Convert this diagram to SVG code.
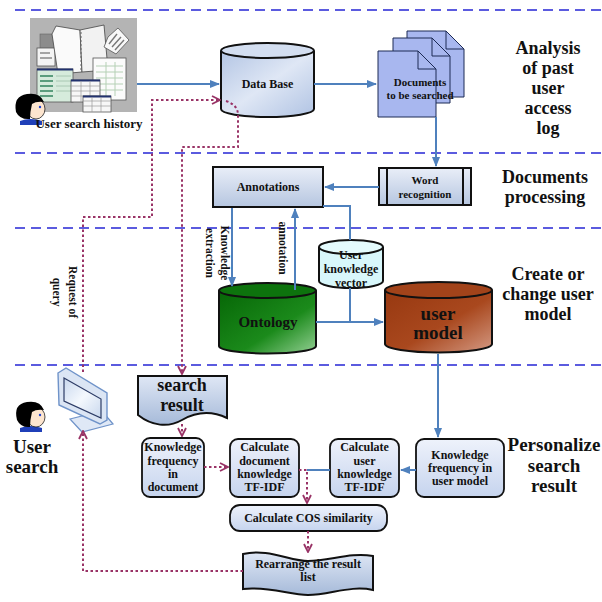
<svg xmlns="http://www.w3.org/2000/svg" width="602" height="602" viewBox="0 0 602 602">
  <style>
    text { font-family: "Liberation Serif", "Times New Roman", serif; font-weight: bold; fill: #111; text-anchor: middle; }
    .lane { stroke: #5b5bdf; stroke-width: 1.8; stroke-dasharray: 10 6; fill: none; }
    .flow { stroke: #4f81bd; stroke-width: 2; fill: none; }
    .dot { stroke: #993366; stroke-width: 2; stroke-dasharray: 2.5 2.5; fill: none; }
    .edge { stroke: #111; stroke-width: 2; }
    .box { fill: url(#boxGrad); stroke: #111; stroke-width: 1.8; }
    .head { font-size: 18px; }
    .t12 { font-size: 12px; }
    .t11 { font-size: 11px; }
    .rot { font-size: 11.5px; }
  </style>
  <defs>
    <linearGradient id="boxGrad" x1="0" y1="0" x2="0" y2="1">
      <stop offset="0" stop-color="#eef2fb"/>
      <stop offset="1" stop-color="#c6d4ee"/>
    </linearGradient>
    <linearGradient id="annGrad" x1="0" y1="0" x2="0" y2="1">
      <stop offset="0" stop-color="#e9eef8"/>
      <stop offset="1" stop-color="#b6c6e0"/>
    </linearGradient>
    <linearGradient id="dbGrad" x1="0" y1="0" x2="1" y2="1">
      <stop offset="0" stop-color="#b3c5e4"/>
      <stop offset="0.5" stop-color="#dfe7f5"/>
      <stop offset="1" stop-color="#b0c3e3"/>
    </linearGradient>
    <linearGradient id="greenGrad" x1="0" y1="0" x2="1" y2="1">
      <stop offset="0" stop-color="#066606"/>
      <stop offset="0.6" stop-color="#1b8a1b"/>
      <stop offset="1" stop-color="#94d094"/>
    </linearGradient>
    <linearGradient id="brownGrad" x1="0" y1="0" x2="1" y2="1">
      <stop offset="0" stop-color="#973810"/>
      <stop offset="0.55" stop-color="#a9481e"/>
      <stop offset="1" stop-color="#d49a84"/>
    </linearGradient>
    <linearGradient id="paperGrad" x1="0" y1="0" x2="0" y2="1">
      <stop offset="0" stop-color="#dfe7f5"/>
      <stop offset="1" stop-color="#a6bad9"/>
    </linearGradient>
    <linearGradient id="screenGrad" x1="0" y1="0" x2="1" y2="1">
      <stop offset="0" stop-color="#c9d8ee"/>
      <stop offset="0.5" stop-color="#f4f8fd"/>
      <stop offset="1" stop-color="#c9d8ee"/>
    </linearGradient>
    <marker id="arrowBlue" viewBox="0 0 10 10" refX="9" refY="5" markerWidth="10" markerHeight="10" markerUnits="userSpaceOnUse" orient="auto">
      <path d="M0,1 L10,5 L0,9 Z" fill="#4f81bd"/>
    </marker>
    <marker id="arrowDot" viewBox="0 0 10 10" refX="9" refY="5" markerWidth="10" markerHeight="10" markerUnits="userSpaceOnUse" orient="auto">
      <path d="M1,1 L9,5 L1,9" fill="none" stroke="#993366" stroke-width="1.8"/>
    </marker>
  </defs>

  <rect width="602" height="602" fill="#fff"/>

  <!-- swimlane separators -->
  <g id="lanes">
    <line class="lane" x1="15" y1="10" x2="602" y2="10"/>
    <line class="lane" x1="15" y1="153" x2="602" y2="153"/>
    <line class="lane" x1="15" y1="228" x2="602" y2="228"/>
    <line class="lane" x1="15" y1="365" x2="602" y2="365"/>
  </g>

  <!-- lane headings -->
  <g id="headings">
    <text class="head" x="548" y="54">Analysis</text>
    <text class="head" x="548" y="74">of  past</text>
    <text class="head" x="548" y="94">user</text>
    <text class="head" x="548" y="114">access</text>
    <text class="head" x="548" y="134">log</text>
    <text class="head" x="545" y="183">Documents</text>
    <text class="head" x="545" y="203">processing</text>
    <text class="head" x="548" y="280">Create or</text>
    <text class="head" x="548" y="300">change user</text>
    <text class="head" x="548" y="320">model</text>
    <text class="head" x="554" y="451" style="font-size:19px">Personalize</text>
    <text class="head" x="554" y="472" style="font-size:19px">search</text>
    <text class="head" x="554" y="492" style="font-size:19px">result</text>
  </g>

  <!-- user search history (records and person) -->
  <g id="history">
    <rect x="30" y="18" width="107" height="94" fill="#b4b4b4"/>
    <rect x="40" y="34" width="16" height="16" fill="#8c8c8c" stroke="#666" stroke-width="0.6"/>
    <rect x="37" y="48" width="18" height="18" fill="#f4f4f4" stroke="#555" stroke-width="0.8"/>
    <line x1="40" y1="53" x2="50" y2="53" stroke="#555"/>
    <line x1="40" y1="58" x2="52" y2="58" stroke="#555"/>
    <path d="M52,34 L56,26 L80,30 L82,72 L58,74 Z" fill="#fafafa" stroke="#444" stroke-width="0.8"/>
    <path d="M80,30 L104,25 L108,70 L82,72 Z" fill="#f2f2f2" stroke="#444" stroke-width="0.8"/>
    <line x1="81" y1="32" x2="81" y2="70" stroke="#666" stroke-width="1" stroke-dasharray="2 2"/>
    <path d="M108,37 L118,28 L129,40 L116,54 L104,47 Z" fill="#f8f8f8" stroke="#555" stroke-width="0.8"/>
    <line x1="109" y1="44" x2="117" y2="34" stroke="#777" stroke-width="1.4"/>
    <line x1="112" y1="47" x2="121" y2="37" stroke="#777" stroke-width="1.4"/>
    <line x1="115" y1="50" x2="124" y2="40" stroke="#777" stroke-width="1.4"/>
    <rect x="93" y="58" width="33" height="42" fill="#fbfbfb" stroke="#555" stroke-width="0.8"/>
    <g stroke="#b5d0b5" stroke-width="1">
      <line x1="96" y1="66" x2="123" y2="66"/><line x1="96" y1="72" x2="123" y2="72"/>
      <line x1="96" y1="78" x2="123" y2="78"/><line x1="96" y1="84" x2="123" y2="84"/>
      <line x1="96" y1="90" x2="123" y2="90"/><line x1="106" y1="62" x2="106" y2="96"/>
      <line x1="115" y1="62" x2="115" y2="96"/>
    </g>
    <rect x="37" y="69" width="36" height="33" fill="#d6ebdc" stroke="#555" stroke-width="0.8"/>
    <line x1="37" y1="69.5" x2="73" y2="69.5" stroke="#22326e" stroke-width="2"/>
    <g stroke="#3c8a66" stroke-width="1.6">
      <line x1="40" y1="76" x2="53" y2="76"/><line x1="40" y1="81" x2="53" y2="81"/>
      <line x1="40" y1="86" x2="53" y2="86"/><line x1="40" y1="91" x2="53" y2="91"/>
      <line x1="40" y1="96" x2="53" y2="96"/>
    </g>
    <g stroke="#9fbfa8" stroke-width="0.8">
      <line x1="56" y1="76" x2="71" y2="76"/><line x1="56" y1="81" x2="71" y2="81"/>
      <line x1="56" y1="86" x2="71" y2="86"/><line x1="56" y1="91" x2="71" y2="91"/>
    </g>
    <rect x="71" y="80" width="29" height="22" fill="#f7f7f7" stroke="#555" stroke-width="0.8"/>
    <line x1="71" y1="80.5" x2="100" y2="80.5" stroke="#22326e" stroke-width="2"/>
    <g stroke="#999" stroke-width="0.7">
      <line x1="71" y1="86" x2="100" y2="86"/><line x1="71" y1="91" x2="100" y2="91"/>
      <line x1="71" y1="96" x2="100" y2="96"/><line x1="81" y1="81" x2="81" y2="102"/>
      <line x1="90" y1="81" x2="90" y2="102"/>
    </g>
    <rect x="83" y="96" width="28" height="16" fill="#f7f7f7" stroke="#555" stroke-width="0.8"/>
    <line x1="83" y1="96.5" x2="111" y2="96.5" stroke="#22326e" stroke-width="2"/>
    <g stroke="#999" stroke-width="0.7">
      <line x1="83" y1="101" x2="111" y2="101"/><line x1="83" y1="106" x2="111" y2="106"/>
      <line x1="92" y1="97" x2="92" y2="112"/><line x1="101" y1="97" x2="101" y2="112"/>
    </g>
    <!-- person -->
    <path d="M20,121 Q30,117 42,121 L42,125 L20,125 Z" fill="#1f3fb8"/>
    <ellipse cx="36" cy="109" rx="9" ry="10" fill="#fde5cf" stroke="#222" stroke-width="0.8"/>
    <path d="M16,112 Q13,96 27,94 Q40,92 44,102 Q36,101 32,104 Q30,112 30,119 Q20,120 16,112 Z" fill="#000"/>
    <circle cx="40" cy="107" r="1.2" fill="#2244cc"/>
    <text x="89" y="128" style="font-size:13px">User search history</text>
  </g>

  <!-- Data Base -->
  <g id="database">
    <path d="M221,51 V109 A46.5,8 0 0 0 314,109 V51" fill="url(#dbGrad)" class="edge"/>
    <ellipse cx="267.5" cy="50.5" rx="46.5" ry="7.5" fill="#d3def0" class="edge"/>
    <text class="t12" x="267.5" y="88">Data Base</text>
  </g>

  <!-- Documents to be searched -->
  <g id="documents" stroke="#1c2a55" stroke-width="1" fill="#a8b7ef">
    <path d="M407,31 H446 L464,49 V97 H407 Z"/>
    <path d="M446,31 V49 H464" fill="none"/>
    <path d="M393,38 H432 L450,56 V103 H393 Z"/>
    <path d="M432,38 V56 H450" fill="none"/>
    <path d="M378,51 H418 L436,69 V117 H378 Z"/>
    <path d="M418,51 V69 H436" fill="none"/>
    <text class="t11" x="420" y="86" stroke="none">Documents</text>
    <text class="t11" x="420" y="99" stroke="none">to be searched</text>
  </g>

  <!-- Annotations -->
  <g id="annotations">
    <rect x="213" y="167" width="110" height="40" fill="url(#annGrad)" class="edge"/>
    <text class="t12" x="268" y="191">Annotations</text>
  </g>

  <!-- Word recognition -->
  <g id="word-recognition">
    <rect x="379" y="168" width="92" height="37" fill="url(#annGrad)" class="edge"/>
    <line x1="387" y1="168" x2="387" y2="205" class="edge"/>
    <line x1="463" y1="168" x2="463" y2="205" class="edge"/>
    <text class="t11" x="425" y="184">Word</text>
    <text class="t11" x="425" y="198">recognition</text>
  </g>

  <!-- Ontology -->
  <g id="ontology">
    <path d="M219,290.5 V346 A48.5,7.5 0 0 0 316,346 V290.5" fill="url(#greenGrad)" class="edge"/>
    <ellipse cx="267.5" cy="290.5" rx="48.5" ry="7.5" fill="#0d730d" class="edge"/>
    <text x="268" y="327" style="font-size:15px">Ontology</text>
  </g>

  <!-- User knowledge vector -->
  <g id="user-knowledge-vector">
    <path d="M319,247 V281 A32,7 0 0 0 383,281 V247" fill="#d8f7fb" class="edge"/>
    <ellipse cx="351" cy="247" rx="32" ry="7" fill="#e4fbfd" class="edge"/>
    <text class="t12" x="351" y="259">User</text>
    <text class="t12" x="351" y="273">knowledge</text>
    <text class="t12" x="351" y="287">vector</text>
  </g>

  <!-- user model -->
  <g id="user-model">
    <path d="M385,290 V344 A53.5,8.5 0 0 0 492,344 V290" fill="url(#brownGrad)" class="edge"/>
    <ellipse cx="438.5" cy="290" rx="53.5" ry="8" fill="#a2431a" class="edge"/>
    <text x="438" y="320" style="font-size:19px">user</text>
    <text x="438" y="339" style="font-size:19px">model</text>
  </g>

  <!-- user search (person and monitor) -->
  <g id="user-search">
    <path d="M20,428 Q30,424 42,428 L42,432 L20,432 Z" fill="#1f3fb8"/>
    <ellipse cx="36" cy="417" rx="9" ry="10" fill="#fde5cf" stroke="#222" stroke-width="0.8"/>
    <path d="M17,420 Q13,404 27,402 Q40,400 44,410 Q36,409 32,412 Q30,420 30,427 Q21,428 17,420 Z" fill="#000"/>
    <circle cx="40" cy="415" r="1.2" fill="#2244cc"/>
    <text x="32" y="453" style="font-size:19px">User</text>
    <text x="32" y="473" style="font-size:19px">search</text>
    <path d="M70,419 L102,411 L113,424 L82,432 Z" fill="#dfe8f6" stroke="#6f93c9" stroke-width="1.2"/>
    <path d="M58,373 L66,368 L107,393 L107,420 L100,424 L59,405 Z" fill="#dbe5f4" stroke="#6f93c9" stroke-width="1.4"/>
    <path d="M64,378 L101,399 L101,418 L64,401 Z" fill="url(#screenGrad)" stroke="#2d3c66" stroke-width="1.2"/>
  </g>

  <!-- search result -->
  <g id="search-result">
    <path d="M138,376 H227 V418 C210,410 196,412 182,420 C168,428 152,426 138,415 Z" fill="url(#paperGrad)" class="edge"/>
    <text x="182" y="391" style="font-size:18px">search</text>
    <text x="182" y="411" style="font-size:18px">result</text>
  </g>

  <!-- Knowledge frequency in document -->
  <g id="kf-document">
    <rect x="142" y="438" width="62" height="59" rx="8" class="box"/>
    <text class="t12" x="173" y="451">Knowledge</text>
    <text class="t12" x="173" y="465">frequency</text>
    <text class="t12" x="173" y="478">in</text>
    <text class="t12" x="173" y="491">document</text>
  </g>

  <!-- Calculate document knowledge TF-IDF -->
  <g id="doc-tfidf">
    <rect x="230" y="439" width="69" height="58" rx="8" class="box"/>
    <text class="t12" x="264.5" y="451">Calculate</text>
    <text class="t12" x="264.5" y="465">document</text>
    <text class="t12" x="264.5" y="478">knowledge</text>
    <text class="t12" x="264.5" y="491">TF-IDF</text>
  </g>

  <!-- Calculate user knowledge TF-IDF -->
  <g id="user-tfidf">
    <rect x="330" y="439" width="69" height="58" rx="8" class="box"/>
    <text class="t12" x="364.5" y="451">Calculate</text>
    <text class="t12" x="364.5" y="465">user</text>
    <text class="t12" x="364.5" y="478">knowledge</text>
    <text class="t12" x="364.5" y="491">TF-IDF</text>
  </g>

  <!-- Knowledge frequency in user model -->
  <g id="kf-user-model">
    <rect x="416" y="439" width="88" height="58" rx="8" class="box"/>
    <text class="t12" x="460" y="459">Knowledge</text>
    <text class="t12" x="460" y="472">frequency in</text>
    <text class="t12" x="460" y="485">user model</text>
  </g>

  <!-- Calculate COS similarity -->
  <g id="cos-similarity">
    <rect x="230" y="505" width="157" height="26" rx="10" class="box"/>
    <text class="t12" x="308.5" y="522">Calculate COS similarity</text>
  </g>

  <!-- Rearrange the result list -->
  <g id="rearrange">
    <path d="M243,554 C268,548 290,561 308,561 C330,561 350,552 373,556 V590 C350,585 330,595 308,595 C290,595 268,586 243,589 Z" fill="url(#paperGrad)" class="edge"/>
    <text class="t12" x="308" y="568">Rearrange the result</text>
    <text class="t12" x="308" y="581">list</text>
  </g>

  <!-- connectors -->
  <g id="connectors">
    <path class="flow" d="M137,84 H219" marker-end="url(#arrowBlue)"/>
    <path class="flow" d="M314,84 H376" marker-end="url(#arrowBlue)"/>
    <path class="flow" d="M436,117 V166" marker-end="url(#arrowBlue)"/>
    <path class="flow" d="M379,187 H325" marker-end="url(#arrowBlue)"/>
    <path class="flow" d="M323,206 H350 V240"/>
    <path class="flow" d="M232,208 V286" marker-end="url(#arrowBlue)"/>
    <path class="flow" d="M295,290 V209" marker-end="url(#arrowBlue)"/>
    <path class="flow" d="M316,322 H383" marker-end="url(#arrowBlue)"/>
    <path class="flow" d="M350,288 V322"/>
    <path class="flow" d="M438,354 V437" marker-end="url(#arrowBlue)"/>
    <path class="flow" d="M416,470 H401" marker-end="url(#arrowBlue)"/>
    <path class="flow" d="M330,470 H307"/>

    <path class="dot" d="M83,372 V217 H152 V100 H220" marker-end="url(#arrowDot)"/>
    <path class="dot" d="M226,101 Q238,105 238,115 V147 H182 V374" marker-end="url(#arrowDot)"/>
    <path class="dot" d="M182,424 V436" marker-end="url(#arrowDot)"/>
    <path class="dot" d="M204,467 H228" marker-end="url(#arrowDot)"/>
    <path class="dot" d="M299,470 H307 V503" marker-end="url(#arrowDot)"/>
    <path class="dot" d="M308,531 V552" marker-end="url(#arrowDot)"/>
    <path class="dot" d="M243,571 H83 V431" marker-end="url(#arrowDot)"/>

    <text class="rot" transform="translate(225,253) rotate(90)" y="4">Knowledge</text>
    <text class="rot" transform="translate(210,253) rotate(90)" y="4">extraction</text>
    <text class="rot" transform="translate(283,248) rotate(90)" y="4">annotation</text>
    <text class="rot" transform="translate(73,292) rotate(90)" y="4">Request of</text>
    <text class="rot" transform="translate(57,292) rotate(90)" y="4">query</text>
  </g>
</svg>
